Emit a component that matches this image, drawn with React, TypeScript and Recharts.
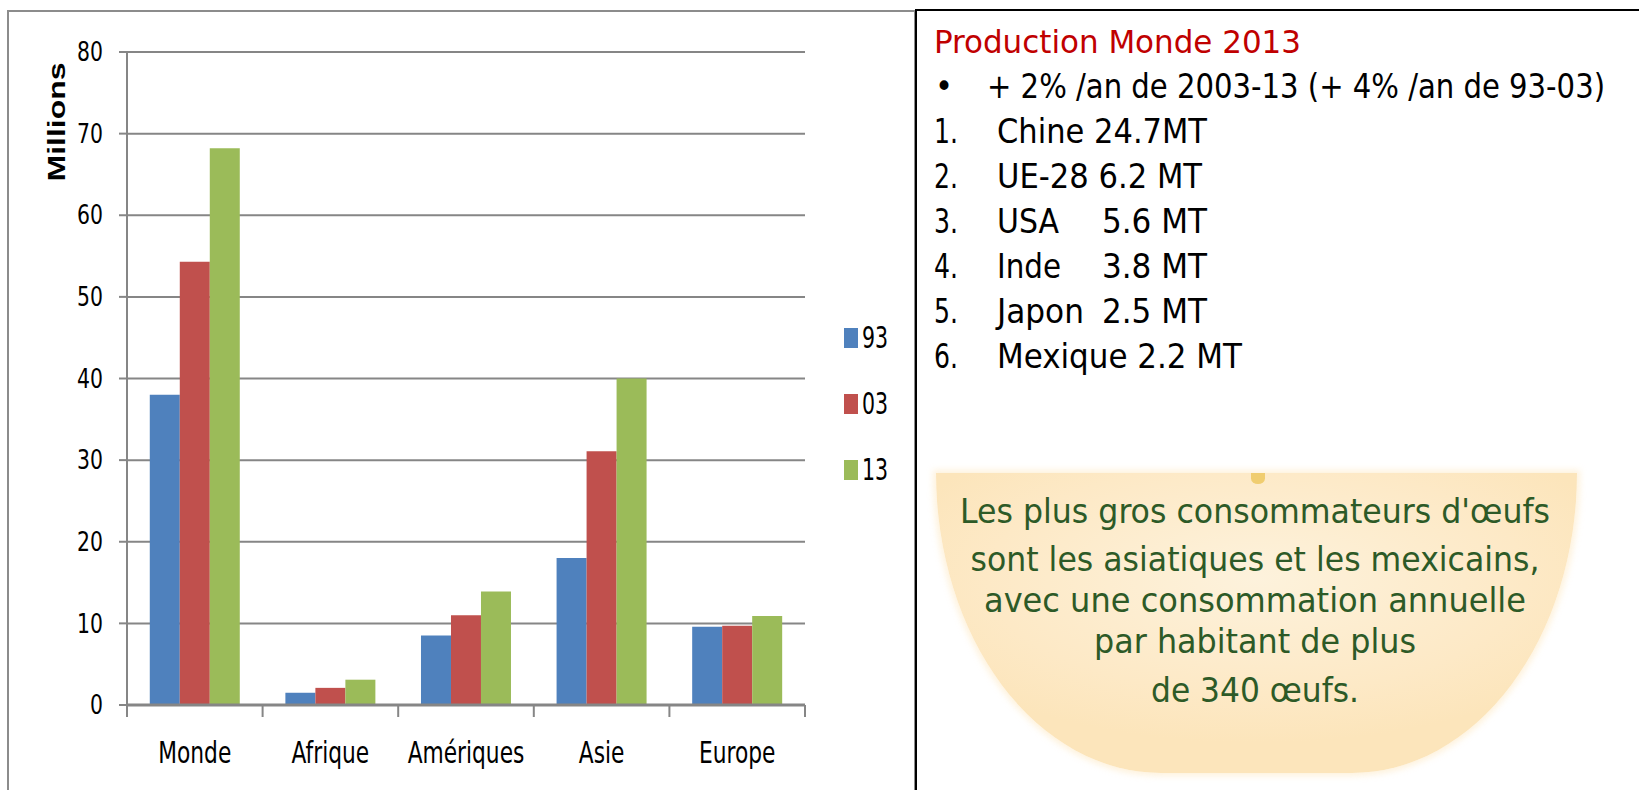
import React from "react";
import { BarChart, Bar, XAxis, YAxis, CartesianGrid, Legend, Label } from "recharts";

const categories = ["Monde", "Afrique", "Amériques", "Asie", "Europe"];
const values93 = [38.0, 1.5, 8.5, 18.0, 9.6];
const values03 = [54.3, 2.1, 11.0, 31.1, 9.7];
const values13 = [68.2, 3.1, 13.9, 40.0, 10.9];
const yTicks = [0, 10, 20, 30, 40, 50, 60, 70, 80];

const rankNumbers = ["1.", "2.", "3.", "4.", "5.", "6."];
const rankLabels = ["Chine 24.7MT", "UE-28 6.2 MT", "USA", "Inde", "Japon", "Mexique 2.2 MT"];
const rankValues = ["", "", "5.6 MT", "3.8 MT", "2.5 MT", ""];

const eggLines = [
  "Les plus gros consommateurs d'œufs",
  "sont les asiatiques et les mexicains,",
  "avec une consommation annuelle",
  "par habitant de plus",
  "de 340 œufs.",
];

// text widths measured on the reference (layout only)
const rankLabelWidths = [210, 205, 62, 64, 87, 245];
const eggLineWidths = [590, 569, 542, 322, 208];
const eggBaselines = [523, 571, 612, 653, 702];

// keys prefixed so the legend (sorted by dataKey) keeps 93, 03, 13 order
const data = categories.map((c, i) => ({
  name: c,
  a93: values93[i],
  b03: values03[i],
  c13: values13[i],
}));

const FONT = "'DejaVu Sans Condensed', 'DejaVu Sans', sans-serif";
const GRID = "#868686";

function CategoryTick(props: any) {
  const { x, y, payload, index } = props;
  const half = payload.offset ?? 67.8;
  return (
    <g>
      <line x1={x - half} y1={y - 12} x2={x - half} y2={y} stroke={GRID} strokeWidth={2} />
      {index === categories.length - 1 && (
        <line x1={x + half} y1={y - 12} x2={x + half} y2={y} stroke={GRID} strokeWidth={2} />
      )}
      <text transform={`translate(${x}, ${y + 46}) scale(0.78, 1)`} textAnchor="middle" fontFamily={FONT} fontSize={31} fill="#000">
        {payload.value}
      </text>
    </g>
  );
}

function ValueTick(props: any) {
  const { x, y, payload } = props;
  return (
    <text transform={`translate(${x}, ${y}) scale(0.84, 1)`} textAnchor="end" dominantBaseline="central" fontFamily={FONT} fontSize={27} fill="#000">
      {payload.value}
    </text>
  );
}

function SeriesLegend(props: any) {
  const items = props.payload || [];
  return (
    <div style={{ width: 100, paddingLeft: 39, paddingTop: 6, boxSizing: "border-box" }}>
      {items.map((it: any) => (
        <div key={it.value} style={{ height: 66, display: "flex", alignItems: "center" }}>
          <span style={{ display: "inline-block", width: 14, height: 20, background: it.color, marginRight: 4 }} />
          <span
            style={{
              display: "inline-block",
              fontFamily: FONT,
              fontSize: 30,
              color: "#000",
              lineHeight: "30px",
              transform: "scaleX(0.76)",
              transformOrigin: "left center",
            }}
          >
            {it.value}
          </span>
        </div>
      ))}
    </div>
  );
}

function MillionsLabel(props: any) {
  const vb = props.viewBox || { x: 0, y: 41 };
  const cx = vb.x + 49;
  const cy = vb.y + 70;
  return (
    <text
      x={cx}
      y={cy}
      transform={`rotate(-90, ${cx}, ${cy})`}
      textAnchor="middle"
      dominantBaseline="central"
      fontFamily="'Liberation Sans', Arial, sans-serif"
      fontWeight="bold"
      fontSize={23}
      textLength={119}
      lengthAdjust="spacingAndGlyphs"
      fill="#000"
    >
      Millions
    </text>
  );
}

function SidePanel() {
  return (
    <svg width={1639} height={790} style={{ position: "absolute", left: 0, top: 0 }} fontFamily={FONT}>
      <text x={934} y={53} fontSize={31.5} fill="#c00000" textLength={367} lengthAdjust="spacingAndGlyphs">
        Production Monde 2013
      </text>
      <text x={935} y={98} fontSize={34} fill="#000">•</text>
      <text x={987} y={98} fontSize={34} fill="#000" textLength={618} lengthAdjust="spacingAndGlyphs">
        + 2% /an de 2003-13 (+ 4% /an de 93-03)
      </text>
      {rankNumbers.map((n, i) => {
        const y = 143 + i * 45;
        return (
          <g key={n}>
            <text x={934} y={y} fontSize={34} fill="#000" textLength={24} lengthAdjust="spacingAndGlyphs">
              {n}
            </text>
            <text x={997} y={y} fontSize={34} fill="#000" textLength={rankLabelWidths[i]} lengthAdjust="spacingAndGlyphs">
              {rankLabels[i]}
            </text>
            {rankValues[i] && (
              <text x={1102} y={y} fontSize={34} fill="#000" textLength={105} lengthAdjust="spacingAndGlyphs">
                {rankValues[i]}
              </text>
            )}
          </g>
        );
      })}
      {eggLines.map((l, i) => (
        <text
          key={l}
          x={1255}
          y={eggBaselines[i]}
          textAnchor="middle"
          fontSize={34}
          fill="#2d5a27"
          textLength={eggLineWidths[i]}
          lengthAdjust="spacingAndGlyphs"
        >
          {l}
        </text>
      ))}
    </svg>
  );
}

export default function App() {
  return (
    <div style={{ position: "absolute", left: 0, top: 0, width: 1639, height: 790, overflow: "hidden", background: "#fff" }}>
      {/* chart frame */}
      <div style={{ position: "absolute", left: 7, top: 10, width: 909, height: 800, border: "2px solid #8c8c8c", boxSizing: "border-box" }} />
      <div style={{ position: "absolute", left: 8, top: 11 }}>
        <BarChart
          width={905}
          height={779}
          data={data}
          margin={{ top: 41, right: 8, bottom: 25, left: 0 }}
          barCategoryGap="16.8%"
          barGap={0}
        >
          <CartesianGrid vertical={false} stroke={GRID} strokeWidth={2} />
          <XAxis
            dataKey="name"
            height={60}
            stroke={GRID}
            strokeWidth={3}
            tickLine={false}
            tickSize={12}
            tickMargin={0}
            tick={<CategoryTick />}
            interval={0}
          />
          <YAxis
            width={119}
            domain={[0, 80]}
            ticks={yTicks}
            interval={0}
            stroke={GRID}
            strokeWidth={2}
            tickSize={8}
            tickMargin={16}
            tick={<ValueTick />}
          >
            <Label content={<MillionsLabel />} />
          </YAxis>
          <Legend layout="vertical" align="right" verticalAlign="middle" itemSorter="dataKey" content={<SeriesLegend />} />
          <Bar dataKey="a93" name="93" fill="#4f81bd" isAnimationActive={false} />
          <Bar dataKey="b03" name="03" fill="#c0504d" isAnimationActive={false} />
          <Bar dataKey="c13" name="13" fill="#9bbb59" isAnimationActive={false} />
        </BarChart>
      </div>

      {/* right text panel frame */}
      <div style={{ position: "absolute", left: 915, top: 9, width: 740, height: 800, border: "2px solid #000", boxSizing: "border-box" }} />

      {/* egg consumption backdrop */}
      <div
        style={{
          position: "absolute",
          left: 936,
          top: 473,
          width: 641,
          height: 300,
          borderRadius: "0 0 225px 225px / 0 0 300px 300px",
          background: "radial-gradient(ellipse 60% 55% at 50% 35%, #fdf2dc 0%, #fde9c6 70%, #fce5bb 100%)",
          boxShadow: "0 0 6px 3px rgba(253, 236, 205, 0.7)",
        }}
      />
      <div style={{ position: "absolute", left: 1251, top: 473, width: 14, height: 11, borderRadius: "0 0 50% 50%", background: "#f0cd70" }} />

      <SidePanel />
    </div>
  );
}
